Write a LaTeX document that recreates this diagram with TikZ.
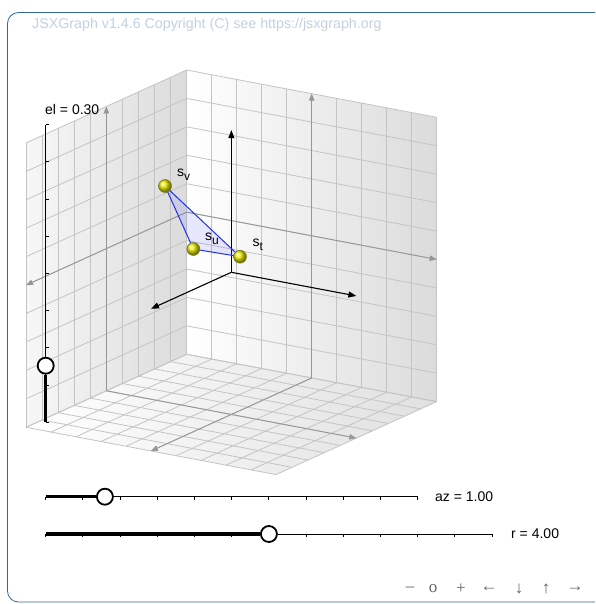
\documentclass[tikz,border=0pt]{standalone}
\usepackage{fontspec}
\setmainfont{Liberation Sans}
\newfontfamily\navfont{Liberation Serif}
\usetikzlibrary{arrows.meta}
\definecolor{jxgblue}{RGB}{53,106,160}
\definecolor{gridgray}{RGB}{196,196,196}
\definecolor{projgray}{RGB}{150,150,150}
\definecolor{edgeblue}{RGB}{30,50,235}
\definecolor{balledge}{RGB}{120,120,40}

\begin{document}
\begin{tikzpicture}[x=1pt, y=-1pt,
        txt/.style={font=\fontsize{14}{16}\selectfont, inner sep=0pt},
        navbtn/.style={font=\navfont\fontsize{17}{19}\selectfont, text=black!60, inner sep=0pt},
        rail/.style={line width=1pt},
        fullrail/.style={line width=3.4pt},
        knob/.style={circle, draw, line width=1.8pt, fill=white, minimum size=16pt, inner sep=0pt},
        ball/.style={circle, minimum size=13pt, inner sep=0pt, draw=balledge, line width=0.5pt, ball color=yellow!92!black},
        grid/.style={gridgray, line width=0.8pt},
        proj/.style={projgray, line width=0.9pt, -{Triangle[length=7pt,width=5.5pt]}},
        mainax/.style={black, line width=1.1pt, -{Triangle[length=8pt,width=6pt]}}]
    \useasboundingbox (0,0) rectangle (595,604);
    \clip (0,0) rectangle (595,604);
    \fill[white] (0,0) rectangle (595,604);
    \draw[jxgblue, line width=0.8pt, rounded corners=11pt] (7.5,12.5) rectangle (650,602);
    \node[txt, font=\fontsize{14.25}{16}\selectfont, text=jxgblue!30, anchor=west] (copy) at (32,25) {JSXGraph v1.4.6 Copyright (C) see https://jsxgraph.org};
    \begin{scope}[shift={(186.7,354.3)}, x={(25pt,-4.73pt)}, y={(-16.07pt,-7.3pt)}, z={(0pt,28.43pt)}]
        \shade[left color=white, right color=black!14] (0,0,0) -- (10,0,0) -- (10,0,10) -- (0,0,10) -- cycle;
        \shade[left color=black!3, right color=black!14] (0,0,0) -- (0,10,0) -- (0,10,10) -- (0,0,10) -- cycle;
        \shade[left color=white, right color=black!12] (0,0,0) -- (10,0,0) -- (10,10,0) -- (0,10,0) -- cycle;
        \foreach \i in {0,...,10}{
            \draw[grid] (\i,0,0) -- (\i,0,10);
            \draw[grid] (0,0,\i) -- (10,0,\i);
            \draw[grid] (0,\i,0) -- (0,\i,10);
            \draw[grid] (0,0,\i) -- (0,10,\i);
            \draw[grid] (\i,0,0) -- (\i,10,0);
            \draw[grid] (0,\i,0) -- (10,\i,0);}
        \coordinate (rwl) at (0,0,5); \coordinate (rwr) at (10,0,5);
        \coordinate (rwb) at (5,0,0); \coordinate (rwt) at (5,0,10);
        \coordinate (lwl) at (0,10,5);
        \coordinate (lwb) at (0,5,0); \coordinate (lwt) at (0,5,10);
        \coordinate (flb) at (0,5,0); \coordinate (flf) at (10,5,0);
        \coordinate (flr) at (5,0,0); \coordinate (fll) at (5,10,0);
        \draw[proj] (rwl) -- (rwr);
        \draw[proj] (rwb) -- (rwt);
        \draw[proj] (rwl) -- (lwl);
        \draw[proj] (lwb) -- (lwt);
        \draw[proj] (flb) -- (flf);
        \draw[proj] (flr) -- (fll);
        \coordinate (o) at (5,5,5);
        \coordinate (ax) at (10,5,5); \coordinate (ay) at (5,10,5); \coordinate (az) at (5,5,10);
        \draw[mainax] (o) -- (ax);
        \draw[mainax] (o) -- (ay);
        \draw[mainax] (o) -- (az);
    \end{scope}
    \coordinate (cv) at (165,186);
    \coordinate (cu) at (193.3,249);
    \coordinate (ct) at (240,256.7);
    \fill[blue!60, opacity=0.15] (cv) -- (cu) -- (ct) -- cycle;
    \draw[edgeblue, line width=1pt] (cv) -- (cu) -- (ct) -- cycle;
    \node[ball] (sv) at (cv) {};
    \node[ball] (su) at (cu) {};
    \node[ball] (st) at (ct) {};
    \node[txt, anchor=base west] (svl) at (177,176.7) {s\raisebox{-4pt}{\fontsize{12}{12}\selectfont v}};
    \node[txt, anchor=base west] (sul) at (205,240.7) {s\raisebox{-4pt}{\fontsize{12}{12}\selectfont u}};
    \node[txt, anchor=base west] (stl) at (252.5,246.7) {s\raisebox{-4pt}{\fontsize{12}{12}\selectfont t}};
    \coordinate (el0) at (45.7,422.3); \coordinate (el1) at (45.7,124.7);
    \draw[rail] (el0) -- (el1);
    \foreach \k in {0,...,8}{\draw[rail] (45.7,124.7+37.2*\k) -- ++(3.4,0);}
    \node[knob] (elk) at (45.7,365.7) {};
    \draw[fullrail] (el0) -- (elk);
    \node[txt, anchor=west] (ell) at (45,109.5) {el = 0.30};
    \coordinate (az0) at (45.7,496.7); \coordinate (az1) at (417.7,496.7);
    \draw[rail] (az0) -- (az1);
    \foreach \k in {0,...,10}{\draw[rail] (45.7+37.2*\k,496.7) -- ++(0,3.4);}
    \node[knob] (azk) at (104.9,496.7) {};
    \draw[fullrail] (az0) -- (azk);
    \node[txt, anchor=west] (azl) at (435,496.7) {az = 1.00};
    \coordinate (r0) at (45.7,534); \coordinate (r1) at (492.1,534);
    \draw[rail] (r0) -- (r1);
    \foreach \k in {0,...,12}{\draw[rail] (45.7+37.2*\k,534) -- ++(0,3.4);}
    \node[knob] (rk) at (268.9,534) {};
    \draw[fullrail] (r0) -- (rk);
    \node[txt, anchor=west] (rl) at (511,534) {r = 4.00};
    \foreach \s/\x [count=\n] in {–/410,o/433,+/461,←/489,↓/519,↑/546,→/575}
        {\node[navbtn] (nav\n) at (\x,589) {\s};}
\end{tikzpicture}
\end{document}
